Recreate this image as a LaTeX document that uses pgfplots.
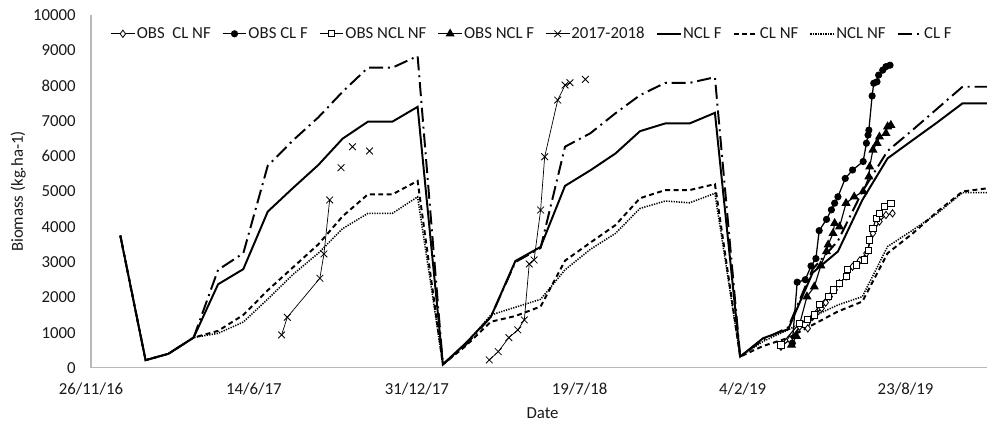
\documentclass[border=0pt]{standalone}
\usepackage{fontspec}
\setmainfont{Carlito}
\usepackage{pgfplots}
\pgfplotsset{compat=1.18}
\usepackage{pgfplotstable}

% x = days since 26/11/16; simulated biomass on the first of each month
\pgfplotstableread{
day  nclf  clnf  nclnf  clf
36   3750  3750  3750   3750
67   220   220   220    220
95   400   400   400    400
126  860   860   860    860
156  2370  1050  980    2780
187  2800  1500  1300   3250
217  4430  2200  1950   5730
248  5100  2850  2650   6450
279  5750  3500  3250   7100
309  6500  4300  3950   7830
340  6980  4920  4380   8510
370  6980  4920  4380   8510
401  7400  5300  4850   8840
432  100   100   100    100
460  700   620   680    650
491  1450  1310  1500   1450
521  3030  1470  1720   3000
552  3430  1740  1945   3400
582  5160  3040  2780   6270
613  5600  3550  3360   6650
644  6080  4050  3815   7220
674  6710  4810  4520   7730
705  6930  5040  4730   8080
735  6930  5040  4680   8080
766  7230  5210  4950   8240
797  320   320   320    320
825  840   620   750    800
856  1100  850   1080   1150
886  2700  1220  1450   2800
917  3300  1600  1785   3600
947  4760  1880  2020   5000
978  5940  3250  3440   6150
1009 6460  3815  3910   6750
1039 6960  4430  4380   7350
1070 7500  5000  4970   7970
1100 7500  5090  4970   7970
}\simtable

\pgfplotstableread{
day bio
847 600
858 800
870 1170
880 1120
886 1450
891 1560
897 1690
902 1850
907 2020
913 2210
919 2400
927 2590
935 2870
944 3050
952 3250
960 3815
968 4150
976 4335
984 4380
}\obsclnf

\pgfplotstableread{
day bio
861 700
867 2430
877 2500
884 2890
890 3100
894 3890
903 4210
909 4480
913 4670
917 4850
926 5370
935 5610
948 5850
952 6370
954 6600
955 6740
959 7710
961 8070
965 8110
967 8300
972 8440
976 8540
981 8580
}\obsclf

\pgfplotstableread{
day bio
847 650
870 1270
880 1380
888 1500
894 1790
905 2020
911 2210
919 2400
927 2590
929 2780
940 2920
950 3060
954 3340
956 3630
960 3960
964 4240
968 4380
974 4570
982 4670
}\obsnclnf

\pgfplotstableread{
day bio
860 650
866 900
879 2020
888 2300
896 2900
903 3300
905 3490
911 3815
913 4100
919 4000
927 4670
937 4850
948 5000
955 5420
956 5700
960 6180
965 6370
968 6550
976 6650
978 6840
982 6880
}\obsnclf

% 2017-2018 measurements; nan rows leave gaps in the line
\pgfplotstableread{
day bio
234 935
241 1436
281 2541
286 3230
293 4760
294 nan
307 5675
308 nan
321 6270
322 nan
342 6148
343 nan
489 227
500 462
513 858
524 1077
532 1360
538 2946
544 3060
552 4476
557 5986
573 7592
582 8017
588 8083
590 nan
607 8178
}\obsprev

\begin{document}
\begin{tikzpicture}
\begin{axis}[
  scale only axis, width=640pt, height=252pt,
  xmin=0, xmax=1100, ymin=0, ymax=10000,
  axis lines=left,
  axis line style={-, draw=black!28, line width=0.8pt},
  xtick={0,200,400,600,800,1000},
  xticklabels={26/11/16,14/6/17,31/12/17,19/7/18,4/2/19,23/8/19},
  ytick={0,1000,...,10000},
  major tick length=0pt,
  scaled y ticks=false,
  /pgf/number format/assume math mode=true,
  /pgf/number format/set thousands separator={},
  tick label style={font=\fontsize{12}{14}\selectfont, text=black!90},
  yticklabel style={xshift=-7.4pt},
  xticklabel style={yshift=-6.8pt},
  xlabel={Date}, ylabel={Biomass (kg.ha-1)},
  label style={font=\fontsize{12}{14}\selectfont, text=black!90},
  xlabel style={at={(axis description cs:0.504,-0.127)}, anchor=center},
  ylabel style={at={(axis description cs:-0.0813,0.5)}, anchor=center},
  legend columns=9,
  legend style={draw=none, fill=none, font=\fontsize{12}{14}\selectfont,
    text=black!90,
    at={(axis description cs:0.0213,0.947)}, anchor=west,
    inner sep=0pt,
    nodes={inner xsep=1pt, inner ysep=1pt},
    /tikz/every even column/.append style={column sep=7pt}},
  unbounded coords=jump,
]
\addplot[black, line width=0.8pt, mark=diamond*, mark size=2.6pt,
  mark options={fill=white, solid, line width=0.6pt}] table[x=day, y=bio] {\obsclnf};
\addlegendentry{OBS\ \ CL NF}
\addplot[black, line width=0.9pt, mark=*, mark size=2.1pt,
  mark options={fill=black, solid}] table[x=day, y=bio] {\obsclf};
\addlegendentry{OBS CL F}
\addplot[black, line width=0.8pt, mark=square*, mark size=2.2pt,
  mark options={fill=white, solid, line width=0.6pt}] table[x=day, y=bio] {\obsnclnf};
\addlegendentry{OBS NCL NF}
\addplot[black, line width=0.8pt, mark=triangle*, mark size=3pt,
  mark options={fill=black, solid}] table[x=day, y=bio] {\obsnclf};
\addlegendentry{OBS NCL F}
\addplot[black, line width=0.5pt, mark=x, mark size=3.4pt,
  mark options={solid, line width=0.6pt}] table[x=day, y=bio] {\obsprev};
\addlegendentry{2017-2018}
\addplot[black, line width=1.4pt] table[x=day, y=nclf] {\simtable};
\addlegendentry{NCL F}
\addplot[black, line width=1.4pt, dash pattern=on 3.5pt off 2.5pt] table[x=day, y=clnf] {\simtable};
\addlegendentry{CL NF}
\addplot[black, line width=1.1pt, dash pattern=on 0.9pt off 0.9pt] table[x=day, y=nclnf] {\simtable};
\addlegendentry{NCL NF}
\addplot[black, line width=1.4pt, dash pattern=on 10pt off 3.5pt on 1.4pt off 3.5pt] table[x=day, y=clf] {\simtable};
\addlegendentry{CL F}
\end{axis}
\pgfresetboundingbox
\path (current axis.south west) ++(-65pt,-39.3pt) rectangle ++(708.6pt,302.1pt);
\end{tikzpicture}
\end{document}
